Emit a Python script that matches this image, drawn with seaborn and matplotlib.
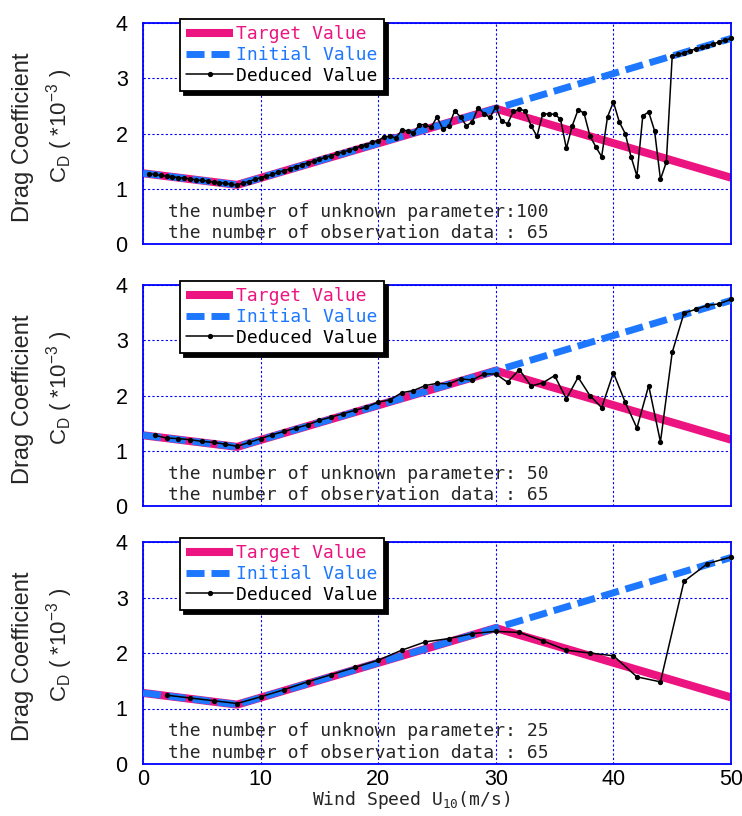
import numpy as np
import pandas as pd
import matplotlib
matplotlib.use("Agg")
import matplotlib.pyplot as plt
import seaborn as sns

# ---------------- data ----------------
knot_x = [0, 8, 30, 50]
target_vals = [1.28, 1.07, 2.45, 1.20]
initial_vals = [1.28, 1.07, 2.45, 3.72]

# deduced values, 100 unknown parameters (x = 0.5 ... 50 step 0.5)
x_top = np.arange(1, 101) * 0.5
ded_top = [
    1.27, 1.26, 1.24, 1.23, 1.22, 1.20, 1.19, 1.18, 1.16, 1.15, 1.14, 1.12, 1.11, 1.10, 1.08, 1.07,
    1.10, 1.13, 1.17, 1.20, 1.23, 1.26, 1.30, 1.33, 1.36, 1.40, 1.43, 1.47, 1.50, 1.53, 1.57, 1.60,
    1.64, 1.66, 1.70, 1.73, 1.77, 1.80, 1.84, 1.87,
    1.94, 1.95, 1.92, 2.06, 2.05, 2.01, 2.16, 2.16, 2.11, 2.30, 2.08, 2.13, 2.41, 2.30, 2.14, 2.21,
    2.47, 2.36, 2.29, 2.48,
    2.22, 2.18, 2.40, 2.44, 2.41, 2.14, 1.95, 2.36, 2.35, 2.35, 2.26, 1.73, 2.14, 2.43, 2.37, 1.96,
    1.76, 1.58, 2.30, 2.57, 2.21, 2.00, 1.58, 1.23, 2.32, 2.39, 2.05, 1.17, 1.48,
    3.40, 3.43, 3.46, 3.50, 3.53, 3.56, 3.59, 3.62, 3.66, 3.69, 3.72,
]

# deduced values, 50 unknown parameters (x = 1 ... 50)
x_mid = np.arange(1, 51) * 1.0
ded_mid = [
    1.28, 1.23, 1.22, 1.20, 1.17, 1.15, 1.12, 1.08, 1.15, 1.22,
    1.29, 1.35, 1.41, 1.47, 1.55, 1.61, 1.67, 1.73, 1.79, 1.88,
    1.92, 2.05, 2.09, 2.18, 2.22, 2.21, 2.30, 2.28, 2.39, 2.39,
    2.24, 2.47, 2.17, 2.23, 2.36, 1.94, 2.33, 2.00, 1.78, 2.41,
    1.88, 1.41, 2.18, 1.16, 2.78, 3.49, 3.56, 3.63, 3.66, 3.74,
]

# deduced values, 25 unknown parameters (x = 2 ... 50)
x_bot = np.arange(1, 26) * 2.0
ded_bot = [
    1.24, 1.19, 1.14, 1.09, 1.21, 1.34, 1.48, 1.61, 1.74, 1.87,
    2.05, 2.20, 2.26, 2.35, 2.39, 2.37, 2.22, 2.05, 2.00, 1.95,
    1.57, 1.48, 3.29, 3.61, 3.73,
]

param_labels = [
    "the number of unknown parameter:100",
    "the number of unknown parameter: 50",
    "the number of unknown parameter: 25",
]
obs_label = "the number of observation data : 65"
legend_labels = ["Target Value", "Initial Value", "Deduced Value"]
xticks = [0, 10, 20, 30, 40, 50]
yticks = [0, 1, 2, 3, 4]

# ---------------- style ----------------
sns.set_style("white")
plt.rcParams["font.family"] = ["Liberation Sans", "DejaVu Sans"]
plt.rcParams["mathtext.fontset"] = "custom"
plt.rcParams["mathtext.rm"] = "Liberation Sans"
plt.rcParams["mathtext.tt"] = "DejaVu Sans Mono"
plt.rcParams["mathtext.it"] = "Liberation Sans:italic"

PINK = "#EC1480"
BLUE = "#1E78FF"
AXBLUE = "#0000FF"
MONO = "DejaVu Sans Mono"

fig = plt.figure(figsize=(7.42, 8.16), dpi=100)
L, W = 143 / 742, 588 / 742
positions = [
    (L, 572 / 816, W, 221 / 816),
    (L, 310 / 816, W, 221 / 816),
    (L, 52 / 816, W, 222 / 816),
]
panels = [(x_top, ded_top), (x_mid, ded_mid), (x_bot, ded_bot)]

for i, (pos, (xd, yd)) in enumerate(zip(positions, panels)):
    ax = fig.add_axes(pos)
    sns.lineplot(x=knot_x, y=target_vals, ax=ax, color=PINK, lw=5.8,
                 solid_capstyle="butt", label=legend_labels[0], zorder=2)
    sns.lineplot(x=knot_x, y=initial_vals, ax=ax, color=BLUE, lw=5.0,
                 label=legend_labels[1], zorder=3)
    sns.lineplot(x=xd, y=yd, ax=ax, color="black", lw=1.1, marker="o",
                 markersize=3.8, markeredgewidth=0, label=legend_labels[2],
                 zorder=4, clip_on=False)
    lines = ax.get_lines()
    lines[1].set_dashes((2.6, 1.0))
    lines[1].set_dash_capstyle("butt")

    ax.set_xlim(0, 50)
    ax.set_ylim(0, 4)
    ax.set_xticks(xticks)
    ax.set_yticks(yticks)
    ax.set_xlabel("")
    ax.set_ylabel("")
    ax.grid(True, color=AXBLUE, linestyle=(0, (2, 2)), lw=0.8)
    for sp in ax.spines.values():
        sp.set_color(AXBLUE)
        sp.set_linewidth(1.3)
        sp.set_visible(True)
    ax.tick_params(axis="both", direction="in", length=3, color=AXBLUE,
                   labelsize=15.5, labelcolor="black")
    ax.tick_params(axis="y", pad=11)
    ax.tick_params(axis="x", pad=3.5)
    if i < 2:
        ax.tick_params(axis="x", labelbottom=False)

    leg = ax.legend(handles=lines[:3], labels=legend_labels, loc="upper left",
                    bbox_to_anchor=(0.063, 1.018), borderaxespad=0,
                    prop={"family": MONO, "size": 13}, frameon=True,
                    fancybox=False, framealpha=1, edgecolor="black",
                    handlelength=2.6, handletextpad=0.15, labelspacing=0.15,
                    borderpad=0.35,
                    shadow={"ox": 3, "oy": -3, "facecolor": "black",
                            "edgecolor": "black", "alpha": 1})
    leg.get_frame().set_linewidth(1.3)
    for t, c in zip(leg.get_texts(), [PINK, BLUE, "black"]):
        t.set_color(c)
    leg.set_zorder(10)

    ax.text(0.0425, 0.147, param_labels[i], transform=ax.transAxes,
            family=MONO, fontsize=13, va="center", ha="left")
    ax.text(0.0425, 0.05, obs_label, transform=ax.transAxes,
            family=MONO, fontsize=13, va="center", ha="left")

    ax.text(-0.204, 0.484, "Drag Coefficient", transform=ax.transAxes,
            rotation=90, fontsize=17, ha="center", va="center")
    ax.text(-0.142, 0.535, r"C$_{\mathrm{D}}$ ( *10$^{-3}$ )",
            transform=ax.transAxes, rotation=90, fontsize=16,
            ha="center", va="center")

fig.text(411 / 742, 1 - 800 / 816, r"Wind Speed U$_{\mathtt{10}}$(m/s)",
         family=MONO, fontsize=13, ha="center", va="center")

fig.savefig("out.png", dpi=100)
